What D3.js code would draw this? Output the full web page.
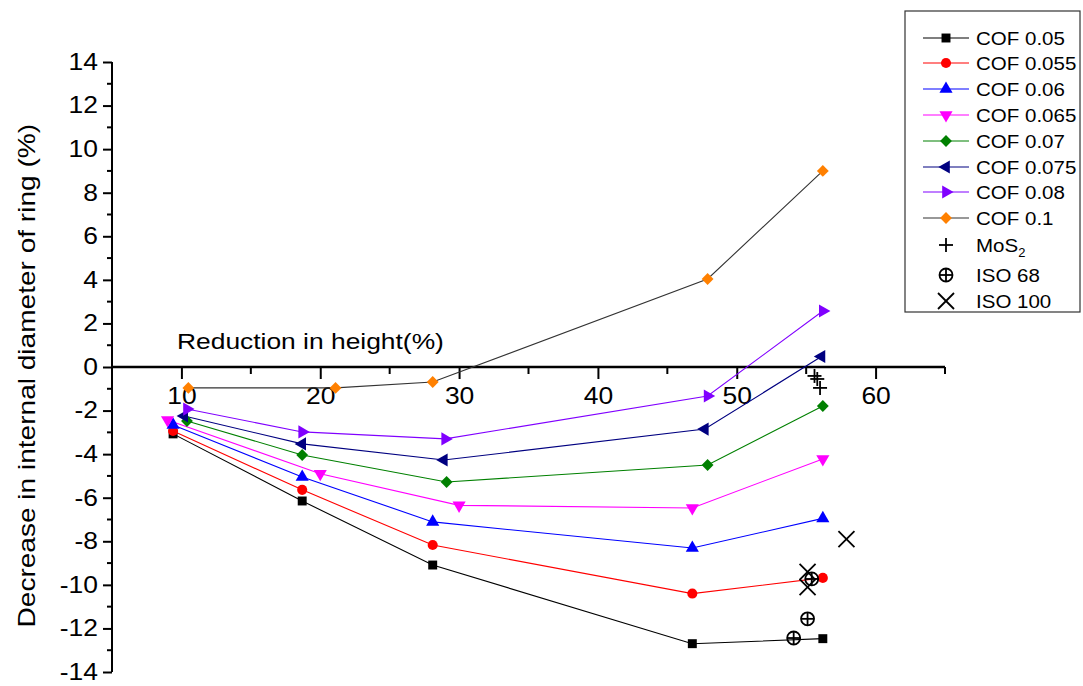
<!DOCTYPE html>
<html>
<head>
<meta charset="utf-8">
<script src="https://cdn.jsdelivr.net/npm/d3@7"></script>
<style>
  html, body { margin: 0; padding: 0; background: #fff; }
  svg { display: block; font-family: "Liberation Sans", Arial, sans-serif; }
</style>
</head>
<body>
<svg id="chart" width="1083" height="686"></svg>
<script>
// Reduction in height (%) for each friction-factor calibration curve
const cof005x  = [9.4, 18.7, 28.1, 46.8, 56.2];
const cof005y  = [-3.07, -6.15, -9.09, -12.7, -12.47];
const cof0055x = [9.4, 18.7, 28.1, 46.8, 56.2];
const cof0055y = [-2.94, -5.64, -8.17, -10.4, -9.68];
const cof006x  = [9.4, 18.7, 28.1, 46.8, 56.2];
const cof006y  = [-2.66, -5.05, -7.11, -8.31, -6.95];
const cof0065x = [9.0, 20.0, 30.0, 46.8, 56.2];
const cof0065y = [-2.43, -4.9, -6.35, -6.47, -4.22];
const cof007x  = [10.4, 18.7, 29.1, 47.9, 56.2];
const cof007y  = [-2.48, -4.04, -5.28, -4.5, -1.79];
const cof0075x = [10.2, 18.7, 28.9, 47.7, 56.1];
const cof0075y = [-2.25, -3.53, -4.27, -2.85, 0.48];
const cof008x  = [10.4, 18.7, 29.0, 47.9, 56.2];
const cof008y  = [-1.93, -2.98, -3.3, -1.33, 2.57];
const cof01x   = [10.5, 21.1, 28.1, 47.9, 56.2];
const cof01y   = [-0.96, -0.96, -0.69, 4.04, 9.0];

// Experimental ring tests
const mos2x   = [55.6, 55.8, 56.0];
const mos2y   = [-0.41, -0.55, -0.96];
const iso68x  = [55.4, 55.1, 54.1];
const iso68y  = [-9.73, -11.56, -12.44];
const iso100x = [57.9, 55.1, 55.1];
const iso100y = [-7.9, -9.4, -10.1];

const seriesNames = ["COF 0.05", "COF 0.055", "COF 0.06", "COF 0.065", "COF 0.07", "COF 0.075", "COF 0.08", "COF 0.1"];
const xTicks = [10, 20, 30, 40, 50, 60];
const yTicks = [-14, -12, -10, -8, -6, -4, -2, 0, 2, 4, 6, 8, 10, 12, 14];

const curves = [
  { name: seriesNames[0], xs: cof005x,  ys: cof005y,  line: "#000000", fill: "#000000", shape: "square" },
  { name: seriesNames[1], xs: cof0055x, ys: cof0055y, line: "#ff0000", fill: "#ff0000", shape: "circle" },
  { name: seriesNames[2], xs: cof006x,  ys: cof006y,  line: "#0000ff", fill: "#0000ff", shape: "up" },
  { name: seriesNames[3], xs: cof0065x, ys: cof0065y, line: "#ff00ff", fill: "#ff00ff", shape: "down" },
  { name: seriesNames[4], xs: cof007x,  ys: cof007y,  line: "#008000", fill: "#008000", shape: "diamond" },
  { name: seriesNames[5], xs: cof0075x, ys: cof0075y, line: "#000080", fill: "#000080", shape: "left" },
  { name: seriesNames[6], xs: cof008x,  ys: cof008y,  line: "#8000ff", fill: "#8000ff", shape: "right" },
  { name: seriesNames[7], xs: cof01x,   ys: cof01y,   line: "#333333", fill: "#ff8000", shape: "diamond" }
];
const tests = [
  { name: "MoS2",    xs: mos2x,   ys: mos2y,   shape: "plus" },
  { name: "ISO 68",  xs: iso68x,  ys: iso68y,  shape: "oplus" },
  { name: "ISO 100", xs: iso100x, ys: iso100y, shape: "cross" }
];

const svg = d3.select("#chart");
const x = d3.scaleLinear().domain([5, 65]).range([112, 945]);
const y = d3.scaleLinear().domain([-14, 14]).range([672, 62]);

// Text in this figure uses a slightly wide face; stretch glyphs horizontally
function wideText(g, tx, ty, k, rot) {
  return g.append("text")
    .attr("transform", `translate(${tx},${ty}) rotate(${rot || 0}) scale(${k},1)`);
}

// Filled marker shapes
function markerPath(shape) {
  switch (shape) {
    case "square":  return { d: d3.symbol(d3.symbolSquare, 80)(), rot: 0 };
    case "circle":  return { d: d3.symbol(d3.symbolCircle, 80)(), rot: 0 };
    case "up":      return { d: d3.symbol(d3.symbolTriangle, 75)(), rot: 0 };
    case "down":    return { d: d3.symbol(d3.symbolTriangle, 75)(), rot: 180 };
    case "left":    return { d: d3.symbol(d3.symbolTriangle, 75)(), rot: -90 };
    case "right":   return { d: d3.symbol(d3.symbolTriangle, 75)(), rot: 90 };
    case "diamond": return { d: d3.symbol(d3.symbolSquare, 70)(), rot: 45 };
  }
}

function drawFilledMarker(g, shape, cx, cy, fill) {
  const m = markerPath(shape);
  g.append("path")
    .attr("d", m.d)
    .attr("transform", `translate(${cx},${cy}) rotate(${m.rot})`)
    .attr("fill", fill);
}

function drawOpenMarker(g, shape, cx, cy) {
  const s = g.append("g").attr("transform", `translate(${cx},${cy})`)
    .attr("stroke", "#000").attr("fill", "none").attr("stroke-width", 1.8);
  if (shape === "plus") {
    s.append("line").attr("x1", -7).attr("x2", 7).attr("y1", 0).attr("y2", 0);
    s.append("line").attr("x1", 0).attr("x2", 0).attr("y1", -7).attr("y2", 7);
  } else if (shape === "oplus") {
    s.append("circle").attr("r", 6.5);
    s.append("line").attr("x1", -6.5).attr("x2", 6.5).attr("y1", 0).attr("y2", 0);
    s.append("line").attr("x1", 0).attr("x2", 0).attr("y1", -6.5).attr("y2", 6.5);
  } else if (shape === "cross") {
    s.append("line").attr("x1", -8).attr("x2", 8).attr("y1", -8).attr("y2", 8);
    s.append("line").attr("x1", -8).attr("x2", 8).attr("y1", 8).attr("y2", -8);
  }
}

const tickFmt = d => String(d);
const tickK = 1.15;

// y axis
const yAxis = d3.axisLeft(y).tickValues(yTicks).tickSize(9).tickPadding(5).tickFormat(tickFmt);
const yG = svg.append("g").attr("transform", `translate(${x(5)},0)`).call(yAxis);
yG.select(".domain").attr("stroke-width", 2).attr("d", `M0,${y(-14)}V${y(14)}`);
yG.selectAll(".tick line").attr("stroke-width", 2);
yG.selectAll(".tick text")
  .attr("font-size", 23).attr("font-family", "Liberation Sans, Arial, sans-serif")
  .attr("x", -14 / tickK)
  .attr("transform", `scale(${tickK},1)`);
const yMinor = d3.range(-13, 14, 2);
yG.selectAll(".minor").data(yMinor).enter().append("line")
  .attr("x1", 0).attr("x2", -5).attr("y1", d => y(d)).attr("y2", d => y(d))
  .attr("stroke", "#000").attr("stroke-width", 2);

// x axis along the zero line
const xAxis = d3.axisBottom(x).tickValues(xTicks).tickSize(12).tickPadding(9).tickFormat(tickFmt);
const xG = svg.append("g").attr("transform", `translate(0,${y(0)})`).call(xAxis);
xG.select(".domain").attr("stroke-width", 2.5).attr("d", `M${x(5)},0H${x(65)}`);
xG.selectAll(".tick line").attr("stroke-width", 2);
xG.selectAll(".tick text")
  .attr("font-size", 23).attr("font-family", "Liberation Sans, Arial, sans-serif")
  .attr("transform", `scale(${tickK},1)`);
const xMinor = [15, 25, 35, 45, 55, 65];
xG.selectAll(".minor").data(xMinor).enter().append("line")
  .attr("x1", d => x(d)).attr("x2", d => x(d)).attr("y1", 0).attr("y2", 7)
  .attr("stroke", "#000").attr("stroke-width", 2);

// Axis titles
wideText(svg, 177, 349, 1.2)
  .attr("font-size", 22)
  .text("Reduction in height(%)");
wideText(svg, 35, y(-0.4), 1.22, -90)
  .attr("text-anchor", "middle")
  .attr("font-size", 23)
  .text("Decrease in internal diameter of ring (%)");

// Curves
const plot = svg.append("g");
const lineGen = d3.line().x(d => x(d[0])).y(d => y(d[1]));
curves.forEach(c => {
  const pts = c.xs.map((v, i) => [v, c.ys[i]]);
  plot.append("path").attr("d", lineGen(pts))
    .attr("fill", "none").attr("stroke", c.line).attr("stroke-width", 1.1);
});
curves.forEach(c => {
  c.xs.forEach((v, i) => drawFilledMarker(plot, c.shape, x(v), y(c.ys[i]), c.fill));
});
tests.forEach(t => {
  t.xs.forEach((v, i) => drawOpenMarker(plot, t.shape, x(v), y(t.ys[i])));
});

// Legend
const legend = svg.append("g");
legend.append("rect").attr("x", 905).attr("y", 11).attr("width", 175).attr("height", 301)
  .attr("fill", "#fff").attr("stroke", "#333").attr("stroke-width", 1.2);
const rowY = [38, 63, 89, 115, 141, 167, 192, 218, 245, 275, 301];
const legK = 1.08;
curves.forEach((c, i) => {
  const ry = rowY[i];
  legend.append("line").attr("x1", 923).attr("x2", 969).attr("y1", ry).attr("y2", ry)
    .attr("stroke", c.line).attr("stroke-width", 1.2);
  drawFilledMarker(legend, c.shape, 946, ry, c.fill);
  wideText(legend, 976, ry + 7, legK).attr("font-size", 19).text(c.name);
});
tests.forEach((t, j) => {
  const ry = rowY[8 + j];
  drawOpenMarker(legend, t.shape, 946, ry);
  const tx = wideText(legend, 976, ry + 7, legK).attr("font-size", 19);
  if (t.name === "MoS2") {
    tx.append("tspan").text("MoS");
    tx.append("tspan").attr("font-size", 12).attr("dy", 5).text("2");
  } else {
    tx.text(t.name);
  }
});
</script>
</body>
</html>
